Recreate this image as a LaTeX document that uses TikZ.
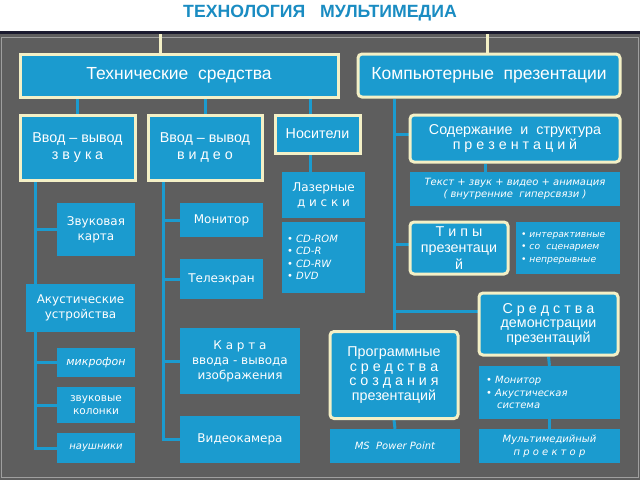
\documentclass[tikz,border=0pt]{standalone}
\usepackage{fontspec}
\setmainfont{Liberation Sans}
\newfontfamily\gothic{DejaVu Sans}
\usetikzlibrary{backgrounds}
\definecolor{boxblue}{HTML}{1B9BCF}
\definecolor{bggray}{HTML}{5E5E5E}
\definecolor{cream}{HTML}{F4F0C6}
\definecolor{titleblue}{HTML}{1A8CC2}
\definecolor{navy}{HTML}{1C1C30}

\begin{document}
\begin{tikzpicture}[x=1pt,y=-1pt,
    tbox/.style={fill=boxblue,text=white,inner sep=0pt,align=center},
    cbox/.style={tbox,draw=cream,line width=3pt},
    rbox/.style={cbox,rounded corners=4pt},
    link/.style={draw=boxblue,line width=3pt},
    big/.style={font=\fontsize{17.5}{20}\selectfont},
    mid/.style={font=\fontsize{14.3}{14.5}\selectfont},
    midloose/.style={font=\fontsize{14.3}{17}\selectfont},
    small/.style={font=\gothic\fontsize{12}{15}\selectfont},
    slant/.style={font=\gothic\itshape\fontsize{10}{12.5}\selectfont},
    plain/.style={font=\gothic\fontsize{10.5}{12.5}\selectfont}]
   \useasboundingbox (0,0) rectangle (640,480);
   \node[font=\bfseries\fontsize{17.7}{20}\selectfont,text=titleblue] (title) at (320,13) {ТЕХНОЛОГИЯ \ \ МУЛЬТИМЕДИА};
   \coordinate (ttop) at (160,34);
   \coordinate (ktop) at (487,34);
   % top level
   \node[cbox,big,minimum width=318,minimum height=43] (tech) at (179,75.5) {Технические \ средства};
   \node[rbox,big,minimum width=262,minimum height=43] (komp) at (489,75.5) {Компьютерные \ презентации};
   % technical means
   \node[cbox,midloose,minimum width=115,minimum height=65] (zvuk) at (77.5,147.5) {Ввод – вывод\\з в у к а};
   \node[cbox,midloose,minimum width=114,minimum height=65] (video) at (205,147.5) {Ввод – вывод\\в и д е о};
   \node[cbox,midloose,minimum width=85,minimum height=38] (nosit) at (317.5,134) {Носители};
   \node[tbox,small,minimum width=83,minimum height=46] (laser) at (323.5,195) {Лазерные\\д и с к и};
   \node[tbox,slant,align=left,minimum width=83,minimum height=71,text width=73] (cd) at (323.5,257.5) {• CD-ROM\\• CD-R\\• CD-RW\\• DVD};
   \node[tbox,small,minimum width=78,minimum height=53] (karta) at (96,229.5) {Звуковая\\карта};
   \node[tbox,small,minimum width=109,minimum height=48] (akust) at (80.5,308) {Акустические\\устройства};
   \node[tbox,slant,font=\gothic\itshape\fontsize{11}{13}\selectfont,minimum width=78,minimum height=29] (mikro) at (96,362.5) {микрофон};
   \node[tbox,plain,minimum width=78,minimum height=36] (kolon) at (96,405) {звуковые\\колонки};
   \node[tbox,slant,minimum width=78,minimum height=30] (naush) at (96,448) {наушники};
   \node[tbox,small,minimum width=83,minimum height=34] (monitor) at (221.5,220) {Монитор};
   \node[tbox,small,minimum width=83,minimum height=40] (tele) at (221.5,279) {Телеэкран};
   \node[tbox,small,minimum width=120,minimum height=66] (kartav) at (240,361) {К а р т а\\ввода - вывода\\изображения};
   \node[tbox,small,minimum width=120,minimum height=47] (camera) at (240,439.5) {Видеокамера};
   % presentations
   \node[rbox,mid,minimum width=210,minimum height=47] (sod) at (515,138.5) {Содержание \ и \ структура\\п р е з е н т а ц и й};
   \node[tbox,slant,minimum width=210,minimum height=34] (tekst) at (515,189) {Текст + звук + видео + анимация\\( внутренние \ гиперсвязи )};
   \node[rbox,midloose,font=\fontsize{14.3}{16.5}\selectfont,minimum width=98,minimum height=52] (tipy) at (459,248) {Т и п ы\\презентаци\\й};
   \node[tbox,slant,font=\gothic\itshape\fontsize{9.2}{12.5}\selectfont,align=left,minimum width=104,minimum height=52,text width=94] (inter) at (568,248) {• интерактивные\\• со \ сценарием\\• непрерывные};
   \node[rbox,mid,minimum width=139,minimum height=62] (sredd) at (548.5,324) {С р е д с т в а\\демонстрации\\презентаций};
   \node[rbox,mid,minimum width=128,minimum height=87] (prog) at (394,375) {Программные\\с р е д с т в а\\с о з д а н и я\\презентаций};
   \node[tbox,slant,minimum width=130,minimum height=34] (ms) at (395,446) {MS \ Power Point};
   \node[tbox,slant,align=left,minimum width=141,minimum height=53,text width=127] (mon2) at (549.5,392.5) {• Монитор\\• Акустическая\\\hspace*{1.1em}система};
   \node[tbox,slant,minimum width=141,minimum height=34] (proj) at (549.5,446) {Мультимедийный\\п р о е к т о р};
   \begin{scope}[on background layer]
      \fill[bggray] (0,34) rectangle (640,480);
      \draw[gray!75!white,line width=1pt] (1.5,37) rectangle (638.5,477);
      \draw[navy,line width=3pt] (0,32.5) -- (640,32.5);
      \draw[cream,line width=3pt] (ttop) -- (ttop |- tech.north);
      \draw[cream,line width=3pt] (ktop) -- (ktop |- komp.north);
      \foreach \n in {zvuk,video} \draw[link] (\n.north |- tech.south) -- (\n.north);
      \draw[link] ([xshift=-7pt]nosit.north |- tech.south) -- ([xshift=-7pt]nosit.north);
      \draw[link] ([xshift=-7pt]nosit.south) -- ([xshift=-7pt]nosit.south |- laser.north);
      \foreach \n in {karta,akust,mikro,kolon,naush} \draw[link] ([xshift=17pt]zvuk.south west) |- (\n.west);
      \foreach \n in {monitor,tele,kartav,camera} \draw[link] ([xshift=17pt]video.south west) |- (\n.west);
      \draw[link] (prog.north |- komp.south) -- (prog.north);
      \foreach \n in {sod,tipy} \draw[link] (prog.north |- komp.south) |- ([yshift=4pt]\n.west);
      \draw[link] (prog.north |- komp.south) |- ([yshift=13pt]sredd.west);
      \draw[link] ([xshift=-30pt]sod.south) -- ([xshift=-30pt]tekst.north);
      \draw[link] (sredd.south) -- (mon2.north);
      \draw[link] (mon2.south) -- (proj.north);
      \draw[link] (prog.south) -- (ms.north);
   \end{scope}
\end{tikzpicture}
\end{document}
